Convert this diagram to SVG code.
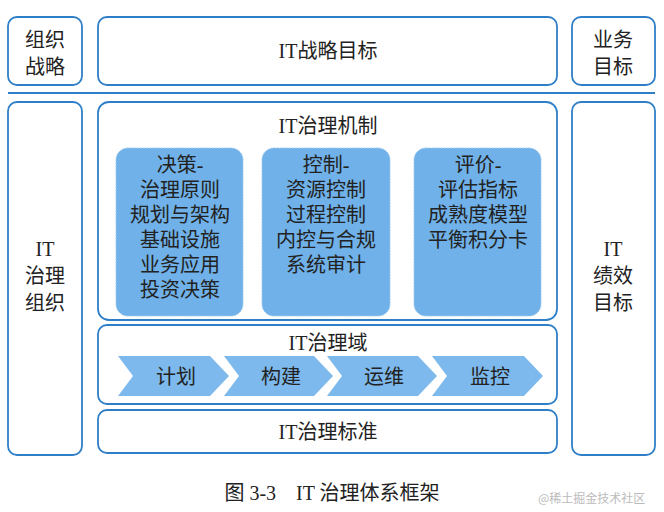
<svg xmlns="http://www.w3.org/2000/svg" width="664" height="512" viewBox="0 0 664 512">
<style>
.b{fill:#fff;stroke:#2f7fc8;stroke-width:1.8}
.f{fill:#6fb1e8;stroke:#9cc8ee;stroke-width:1;stroke-dasharray:2 1}
.c{fill:#7db9ec}
text{font-family:"Liberation Serif","Noto Sans CJK SC",serif;font-size:20px;fill:#222;text-anchor:middle}
.w{font-size:12px;fill:#bbb;font-family:"Noto Sans CJK SC",sans-serif;text-anchor:start}
</style>
<rect width="664" height="512" fill="#fff"/>
<g id="org-strategy"><rect class="b" x="8" y="17" width="74" height="68" rx="9"/><text x="45" y="47">组织</text><text x="45" y="74">战略</text></g>
<g id="it-strategy"><rect class="b" x="98" y="17" width="459" height="68" rx="9"/><text x="328" y="58">IT战略目标</text></g>
<g id="biz-goal"><rect class="b" x="572" y="17" width="83" height="68" rx="9"/><text x="613" y="47">业务</text><text x="613" y="74">目标</text></g>
<g id="connectors"><line x1="8" y1="93" x2="655" y2="93" stroke="#2f7fc8" stroke-width="2"/></g>
<g id="it-org"><rect class="b" x="8" y="102" width="74" height="353" rx="9"/><text x="45" y="256">IT</text><text x="45" y="283">治理</text><text x="45" y="310">组织</text></g>
<g id="it-perf"><rect class="b" x="572" y="102" width="83" height="353" rx="9"/><text x="613" y="256">IT</text><text x="613" y="283">绩效</text><text x="613" y="310">目标</text></g>
<g id="mechanism"><rect class="b" x="98" y="102" width="459" height="218" rx="11"/><text x="328" y="133">IT治理机制</text>
<rect class="f" x="116" y="148" width="127" height="168" rx="12"/>
<text x="180" y="172">决策-</text><text x="180" y="197">治理原则</text><text x="180" y="222">规划与架构</text><text x="180" y="247">基础设施</text><text x="180" y="272">业务应用</text><text x="180" y="297">投资决策</text>
<rect class="f" x="262" y="148" width="128" height="168" rx="12"/>
<text x="326" y="172">控制-</text><text x="326" y="197">资源控制</text><text x="326" y="222">过程控制</text><text x="326" y="247">内控与合规</text><text x="326" y="272">系统审计</text>
<rect class="f" x="414" y="148" width="127" height="168" rx="12"/>
<text x="478" y="172">评价-</text><text x="478" y="197">评估指标</text><text x="478" y="222">成熟度模型</text><text x="478" y="247">平衡积分卡</text>
</g>
<g id="domain"><rect class="b" x="98" y="325" width="459" height="79" rx="9"/><text x="328" y="350">IT治理域</text>
<polygon class="c" points="118,356 210,356 229,376 210,396 118,396 133,376"/>
<polygon class="c" points="224,356 314,356 333,376 314,396 224,396 239,376"/>
<polygon class="c" points="327,356 418,356 437,376 418,396 327,396 342,376"/>
<polygon class="c" points="432,356 524,356 543,376 524,396 432,396 447,376"/>
<text x="176" y="384">计划</text><text x="281" y="384">构建</text><text x="384" y="384">运维</text><text x="490" y="384">监控</text>
</g>
<g id="standard"><rect class="b" x="98" y="410" width="459" height="43" rx="9"/><text x="328" y="439">IT治理标准</text></g>
<text x="332" y="500">图 3-3　IT 治理体系框架</text>
<text class="w" x="538" y="503">@稀土掘金技术社区</text>
</svg>
